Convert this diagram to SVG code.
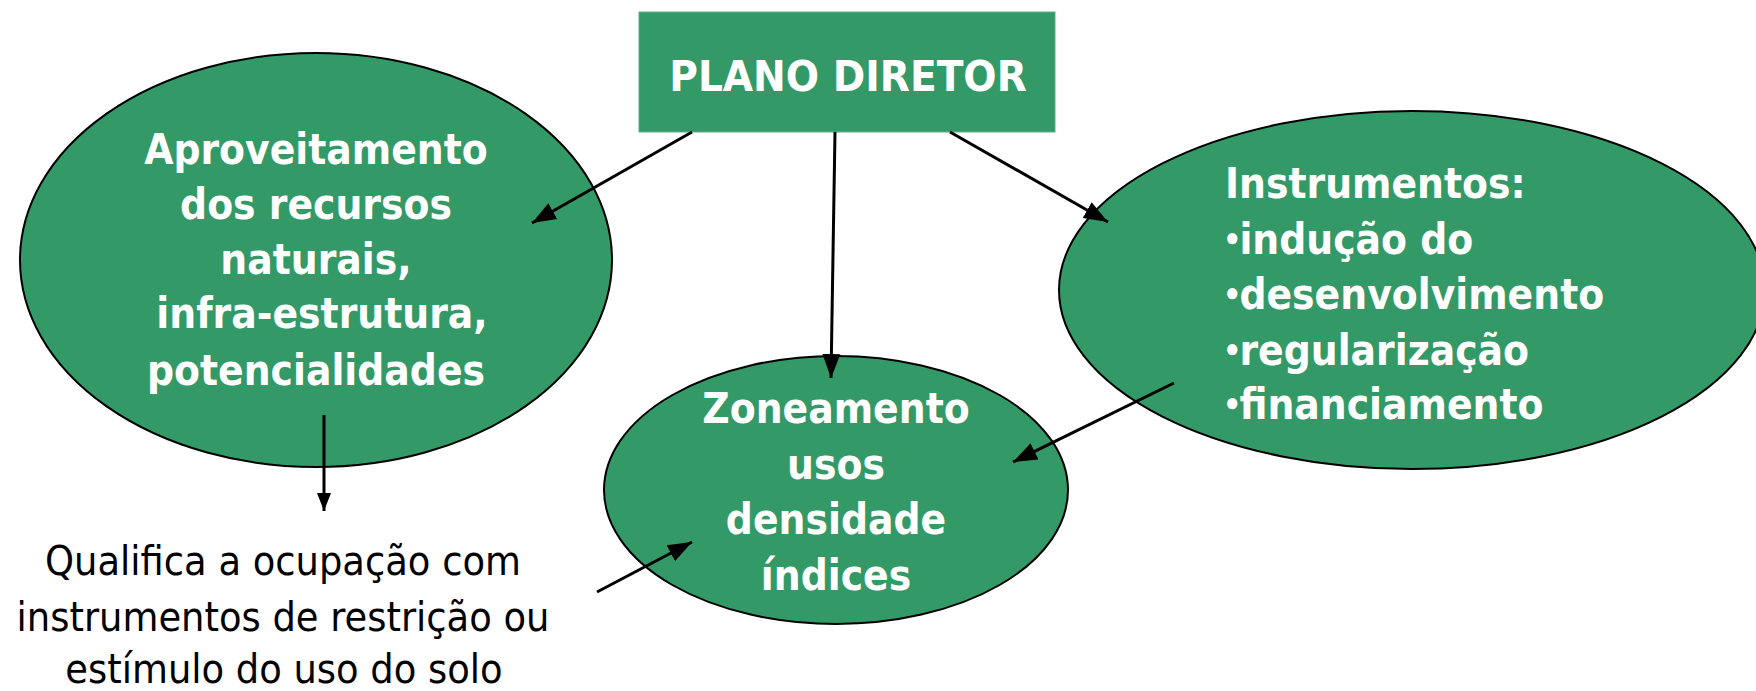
<svg xmlns="http://www.w3.org/2000/svg" width="1756" height="691" viewBox="0 0 1756 691">
<style>
.node{fill:#339966;stroke:#000;stroke-width:2}
.box{fill:#339966;stroke:#5cb08a;stroke-width:1}
.t{font-family:"DejaVu Sans Condensed","DejaVu Sans",sans-serif;font-stretch:condensed;font-weight:bold;font-size:42px;fill:#fff}
.c{text-anchor:middle}
.b{font-size:32px}
.plain{font-family:"DejaVu Sans Condensed","DejaVu Sans",sans-serif;font-stretch:condensed;font-size:41px;fill:#000;text-anchor:middle}
.edge{stroke:#000;stroke-width:3;fill:none}
</style>
<defs>
<marker id="ah" markerUnits="userSpaceOnUse" markerWidth="26" markerHeight="20" refX="24" refY="10" orient="auto">
<path d="M0,1 L24,10 L0,19 z" fill="#000"/>
</marker>
<marker id="ahs" markerUnits="userSpaceOnUse" markerWidth="20" markerHeight="16" refX="18" refY="7" orient="auto">
<path d="M0,0 L18,7 L0,14 z" fill="#000"/>
</marker>
</defs>
<g id="plano">
<rect class="box" x="639" y="12" width="416" height="120"/>
<text class="t c" x="848" y="91" style="font-size:43.5px">PLANO DIRETOR</text>
</g>
<g id="aproveitamento">
<ellipse class="node" cx="316" cy="260" rx="296" ry="207"/>
<text class="t c" x="316" y="164">Aproveitamento</text>
<text class="t c" x="316" y="219">dos recursos</text>
<text class="t c" x="316" y="274">naturais,</text>
<text class="t c" x="322" y="328">infra-estrutura,</text>
<text class="t c" x="316" y="385">potencialidades</text>
</g>
<g id="instrumentos">
<ellipse class="node" cx="1412" cy="290" rx="353" ry="179"/>
<text class="t" x="1225" y="198">Instrumentos:</text>
<text class="t" x="1223" y="254"><tspan class="b" dy="-3">•</tspan><tspan dy="3" dx="-2">indução do</tspan></text>
<text class="t" x="1223" y="309"><tspan class="b" dy="-3">•</tspan><tspan dy="3" dx="-2">desenvolvimento</tspan></text>
<text class="t" x="1223" y="365"><tspan class="b" dy="-3">•</tspan><tspan dy="3" dx="-2">regularização</tspan></text>
<text class="t" x="1223" y="419"><tspan class="b" dy="-3">•</tspan><tspan dy="3" dx="-2">financiamento</tspan></text>
</g>
<g id="zoneamento">
<ellipse class="node" cx="836" cy="490" rx="232" ry="134"/>
<text class="t c" x="836" y="423">Zoneamento</text>
<text class="t c" x="836" y="479">usos</text>
<text class="t c" x="836" y="534">densidade</text>
<text class="t c" x="836" y="590">índices</text>
</g>
<g id="qualifica">
<text class="plain" x="283" y="575">Qualifica a ocupação com</text>
<text class="plain" x="283" y="631">instrumentos de restrição ou</text>
<text class="plain" x="284" y="683">estímulo do uso do solo</text>
</g>
<g id="connectors">
<line class="edge" x1="692" y1="132" x2="532" y2="223" marker-end="url(#ah)"/>
<line class="edge" x1="835" y1="132" x2="831" y2="378" marker-end="url(#ah)"/>
<line class="edge" x1="950" y1="132" x2="1108" y2="222" marker-end="url(#ah)"/>
<line class="edge" x1="1174" y1="383" x2="1013" y2="462" marker-end="url(#ah)"/>
<line class="edge" x1="324" y1="415" x2="324" y2="511" marker-end="url(#ahs)"/>
<line class="edge" x1="597" y1="592" x2="692" y2="542" marker-end="url(#ah)"/>
</g>
</svg>
